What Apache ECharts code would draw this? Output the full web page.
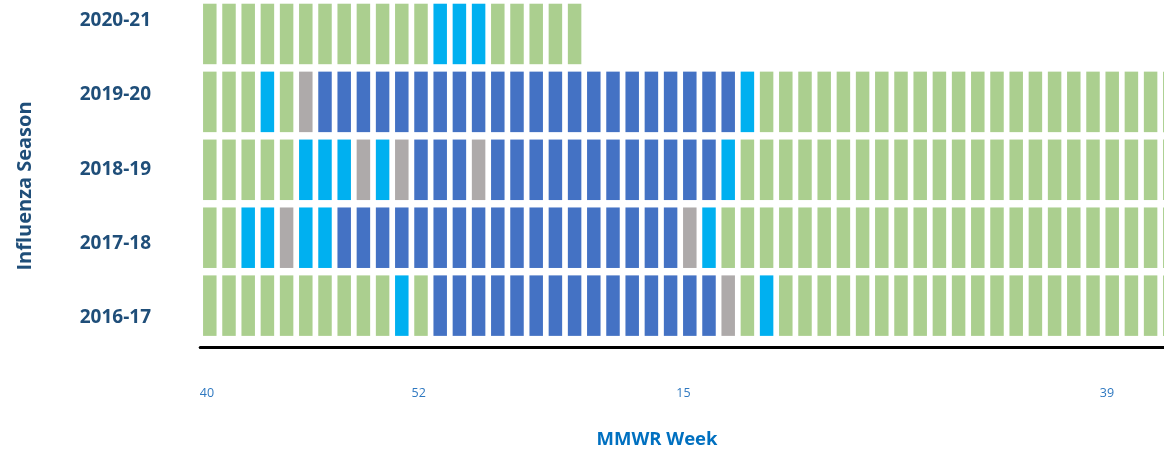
<!DOCTYPE html>
<html>
<head>
<meta charset="utf-8">
<script src="https://cdn.jsdelivr.net/npm/echarts@6/dist/echarts.min.js"></script>
<style>html,body{margin:0;padding:0;background:#fff;}#c{width:1164px;height:454px;}</style>
</head>
<body>
<div id="c"></div>
<script>
// MMWR weeks of a season (tick labels)
var weeks = ['40','41','42','43','44','45','46','47','48','49','50','51','52',
  '1','2','3','4','5','6','7','8','9','10','11','12','13','14','15','16','17','18','19','20',
  '21','22','23','24','25','26','27','28','29','30','31','32','33','34','35','36','37','38','39'];
var shownWeekLabels = ['40','52','15','39'];
// seasons, bottom to top
var seasons = ['2016-17','2017-18','2018-19','2019-20','2020-21'];
// status codes per week: 0 = green, 1 = light blue, 2 = dark blue, 3 = grey
var s2016_17 = [0,0,0,0,0,0,0,0,0,0,1,0,2,2,2,2,2,2,2,2,2,2,2,2,2,2,2,3,0,1,0,0,0,0,0,0,0,0,0,0,0,0,0,0,0,0,0,0,0,0,0,0];
var s2017_18 = [0,0,1,1,3,1,1,2,2,2,2,2,2,2,2,2,2,2,2,2,2,2,2,2,2,3,1,0,0,0,0,0,0,0,0,0,0,0,0,0,0,0,0,0,0,0,0,0,0,0,0,0];
var s2018_19 = [0,0,0,0,0,1,1,1,3,1,3,2,2,2,3,2,2,2,2,2,2,2,2,2,2,2,2,1,0,0,0,0,0,0,0,0,0,0,0,0,0,0,0,0,0,0,0,0,0,0,0,0];
var s2019_20 = [0,0,0,1,0,3,2,2,2,2,2,2,2,2,2,2,2,2,2,2,2,2,2,2,2,2,2,2,1,0,0,0,0,0,0,0,0,0,0,0,0,0,0,0,0,0,0,0,0,0,0,0];
var s2020_21 = [0,0,0,0,0,0,0,0,0,0,0,0,1,1,1,0,0,0,0,0];
var seasonValues = [s2016_17, s2017_18, s2018_19, s2019_20, s2020_21];
var statusColors = ['#ABCF8F', '#00B0F0', '#4472C4', '#AEAAAA'];

var cells = [];
seasonValues.forEach(function (arr, si) {
  arr.forEach(function (v, wi) {
    cells.push({ value: [wi, si, v], itemStyle: { color: statusColors[v], opacity: 1 } });
  });
});

var chart = echarts.init(document.getElementById('c'), null, { renderer: 'canvas' });
var font = '"Open Sans", "Noto Sans", sans-serif';
var gridLeft = 200.2, colPitch = 19.2;
chart.setOption({
  animation: false,
  textStyle: { fontFamily: font },
  grid: [
    { left: gridLeft, top: -1.6, right: 0, height: 341.2 },
    { left: 207, top: 20.5, width: 900, height: 299.5 },
    { left: 207, top: 102, width: 900, height: 168 }
  ],
  xAxis: [
    { gridIndex: 0, type: 'value', min: -0.5, max: -0.5 + (1164 - gridLeft) / colPitch, offset: 7.5,
      axisLine: { show: true, lineStyle: { color: '#000', width: 3 } },
      axisTick: { show: false }, axisLabel: { show: false }, splitLine: { show: false } },
    { gridIndex: 1, type: 'category', data: weeks, boundaryGap: false, offset: 60,
      axisLine: { show: false }, axisTick: { show: false }, splitLine: { show: false },
      axisLabel: { color: '#2E78C0', fontSize: 12.5, margin: 9, fontFamily: font,
        interval: function (i, v) { return shownWeekLabels.indexOf(v) >= 0; } },
      name: 'MMWR Week', nameLocation: 'middle', nameGap: 52,
      nameTextStyle: { color: '#0070C0', fontSize: 18.5, fontWeight: 'bold', fontFamily: font } },
    { gridIndex: 2, type: 'value', show: false }
  ],
  yAxis: [
    { gridIndex: 0, type: 'category', data: seasons, show: false },
    { gridIndex: 1, type: 'category', data: seasons, boundaryGap: false,
      axisLine: { show: false }, axisTick: { show: false }, splitLine: { show: false },
      axisLabel: { color: '#1F4E79', fontSize: 19, fontWeight: 'bold', margin: 56, fontFamily: font } },
    { gridIndex: 2, type: 'value', axisLine: { show: false }, axisTick: { show: false },
      axisLabel: { show: false }, splitLine: { show: false },
      name: 'Influenza Season', nameLocation: 'middle', nameGap: 172, nameRotate: 90,
      nameTextStyle: { color: '#1F4E79', fontSize: 20, fontWeight: 'bold', fontFamily: font } }
  ],
  series: [{
    type: 'scatter', xAxisIndex: 0, yAxisIndex: 0, clip: false,
    symbol: 'rect', symbolSize: [13.5, 60.5],
    itemStyle: { opacity: 1 },
    data: cells, silent: true
  }]
});
</script>
</body>
</html>
